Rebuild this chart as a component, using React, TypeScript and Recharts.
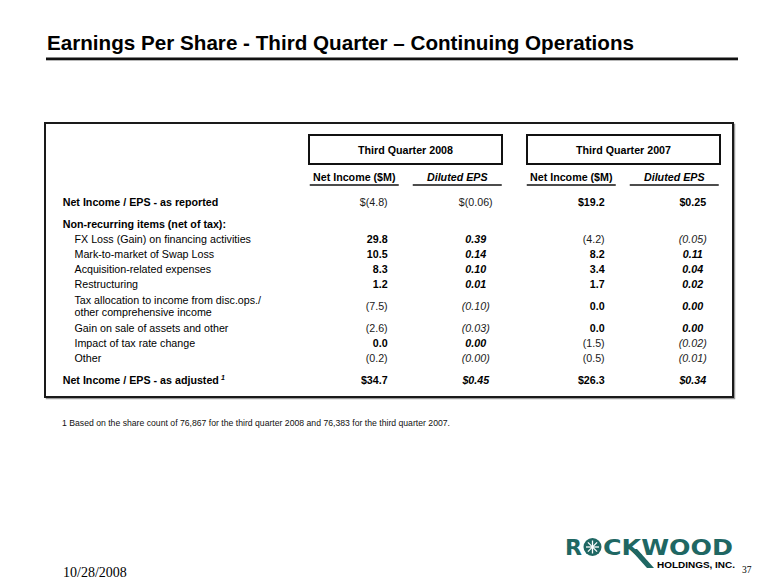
import React from 'react';
import { ScatterChart, Scatter, XAxis, YAxis } from 'recharts';

// table rows, top to bottom
const rowLabels = [
  'Net Income / EPS - as reported',
  'Non-recurring items (net of tax):',
  'FX Loss (Gain) on financing activities',
  'Mark-to-market of Swap Loss',
  'Acquisition-related expenses',
  'Restructuring',
  'Tax allocation to income from disc.ops./\nother comprehensive income',
  'Gain on sale of assets and other',
  'Impact of tax rate change',
  'Other',
  'Net Income / EPS - as adjusted',
];

const columnKeys = ['ni2008', 'eps2008', 'ni2007', 'eps2007'];
const columnHeaders = ['Net Income ($M)', 'Diluted EPS', 'Net Income ($M)', 'Diluted EPS'];
const periodHeaders = ['Third Quarter 2008', 'Third Quarter 2007'];

// null = heading row with no figures; -0 shows as (0.00)
const netIncome2008 = [-4.8, null, 29.8, 10.5, 8.3, 1.2, -7.5, -2.6, 0.0, -0.2, 34.7];
const eps2008 = [-0.06, null, 0.39, 0.14, 0.1, 0.01, -0.1, -0.03, 0.0, -0, 0.45];
const netIncome2007 = [19.2, null, -4.2, 8.2, 3.4, 1.7, 0.0, 0.0, -1.5, -0.5, 26.3];
const eps2007 = [0.25, null, -0.05, 0.11, 0.04, 0.02, 0.0, 0.0, -0.02, -0.01, 0.34];

const footnote =
  '1 Based on the share count of 76,867 for the third quarter 2008 and 76,383 for the third quarter 2007.';

const seriesValues = [netIncome2008, eps2008, netIncome2007, eps2007];

// vertical layout: line slot of each row (gaps and the two-line row get extra slots)
const rowSlots = [0, 3, 5, 7, 9, 11, 14, 17, 19, 21, 24];

const FONT = '"Liberation Sans", Arial, Helvetica, sans-serif';
const SERIF = '"Liberation Serif", "Times New Roman", serif';
const TEAL = '#1f6763';
const FS = 10.7;
const lastRow = rowLabels.length - 1;

const isNeg = (v: number) => v < 0 || Object.is(v, -0);

function fmt(v: number, col: number, row: number) {
  const body = Math.abs(v).toFixed(col % 2 === 0 ? 1 : 2);
  const s = isNeg(v) ? `(${body})` : body;
  return row === 0 || row === lastRow ? '$' + s : s;
}

const makeCell = (col: number) => (props: any) => {
  const { cx, cy, payload } = props;
  if (payload == null || payload.value == null || cx == null) return <g />;
  const isEps = col % 2 === 1;
  const row = payload.rowIndex;
  const bold = row === lastRow || !isNeg(payload.value);
  const italic = isEps && row !== 0;
  return (
    <text
      x={isEps ? cx - 3 : cx + 17.4}
      y={cy}
      dy="0.36em"
      textAnchor={isEps ? 'middle' : 'end'}
      fontFamily={FONT}
      fontSize={FS}
      fontWeight={bold ? 'bold' : 'normal'}
      fontStyle={italic ? 'italic' : 'normal'}
      fill={bold ? '#000' : '#1a1a1a'}
    >
      {fmt(payload.value, col, row)}
    </text>
  );
};

const HeaderTick = (props: any) => {
  const { x, y, payload } = props;
  const i = columnKeys.indexOf(payload.value);
  const isEps = i % 2 === 1;
  const hx = x + (isEps ? -21.5 : -16);
  return (
    <g>
      <text
        x={hx}
        y={y - 2}
        textAnchor="middle"
        fontFamily={FONT}
        fontSize={FS}
        fontWeight="bold"
        fontStyle={isEps ? 'italic' : 'normal'}
        fill="#000"
      >
        {columnHeaders[i]}
      </text>
      <line x1={hx - 44.5} x2={hx + 44.5} y1={y + 2} y2={y + 2} stroke="#111" strokeWidth={1.4} />
    </g>
  );
};

const RowTick = (props: any) => {
  const { y, payload } = props;
  const i = rowSlots.indexOf(payload.value);
  if (i < 0) return <g />;
  const indented = i > 1 && i < lastRow;
  const lines = rowLabels[i].split('\n');
  const x = indented ? 74.5 : 62.7;
  const top = y - ((lines.length - 1) * 12) / 2;
  return (
    <text
      x={x}
      y={top}
      textAnchor="start"
      fontFamily={FONT}
      fontSize={FS}
      fontWeight={indented ? 'normal' : 'bold'}
      fill="#000"
    >
      {lines.map((ln, k) => (
        <tspan key={k} x={x} dy={k === 0 ? '0.36em' : 12}>
          {ln}
        </tspan>
      ))}
      {i === lastRow && (
        <tspan dx={2} dy={-4} fontSize={7} fontStyle="italic">
          1
        </tspan>
      )}
    </text>
  );
};

function Decorations() {
  return (
    <svg width={780} height={585} style={{ position: 'absolute', left: 0, top: 0 }}>
      <text x={47} y={50} fontFamily={FONT} fontSize={20.6} fontWeight="bold" fill="#000"
        textLength={587} lengthAdjust="spacingAndGlyphs">
        Earnings Per Share - Third Quarter – Continuing Operations
      </text>
      <rect x={46} y={57.5} width={692} height={2.8} fill="#111" />

      {/* table frame */}
      <rect x={46.5} y={124.5} width={688} height={274} fill="none" stroke="#9a9a9a" strokeWidth={1.5} />
      <rect x={45} y={123} width={688} height={274} fill="#fff" stroke="#1a1a1a" strokeWidth={2} />

      {/* period boxes */}
      {periodHeaders.map((p, k) => {
        const bx = k === 0 ? 309 : 527;
        return (
          <g key={p}>
            <rect x={bx} y={135} width={193} height={29} fill="#fff" stroke="#111" strokeWidth={2} />
            <text x={bx + 96.5} y={153.5} textAnchor="middle" fontFamily={FONT} fontSize={FS}
              fontWeight="bold" fill="#000">
              {p}
            </text>
          </g>
        );
      })}

      <text x={62} y={426} fontFamily={FONT} fontSize={8.2} fill="#111" textLength={388}
        lengthAdjust="spacingAndGlyphs">
        {footnote}
      </text>

      <text x={63} y={577} fontFamily={SERIF} fontSize={14} fill="#000">10/28/2008</text>
      <text x={742} y={573} fontFamily={SERIF} fontSize={9.5} fill="#000">37</text>

      {/* logo */}
      <text x={565} y={555} fontFamily='"DejaVu Sans", sans-serif' fontSize={22} fontWeight="bold"
        fill={TEAL} textLength={17} lengthAdjust="spacingAndGlyphs">R</text>
      <circle cx={592.5} cy={547} r={9} fill={TEAL} />
      {[0, 45, 90, 135].map((a) => {
        const r = (a * Math.PI) / 180;
        return (
          <line key={a} x1={592.5 - 6.5 * Math.cos(r)} y1={547 - 6.5 * Math.sin(r)}
            x2={592.5 + 6.5 * Math.cos(r)} y2={547 + 6.5 * Math.sin(r)} stroke="#fff" strokeWidth={1.3} />
        );
      })}
      <text x={603} y={555} fontFamily='"DejaVu Sans", sans-serif' fontSize={22} fontWeight="bold"
        fill={TEAL} textLength={130} lengthAdjust="spacingAndGlyphs">CKWOOD</text>
      <polygon points="630,549 637,549 654,568 647,568" fill={TEAL} />
      <text x={657} y={568} fontFamily={FONT} fontSize={8.6} fontWeight="bold" fill="#000"
        textLength={78} lengthAdjust="spacingAndGlyphs">HOLDINGS, INC.</text>
    </svg>
  );
}

export default function App() {
  const series = columnKeys.map((key, col) =>
    rowLabels.map((row, rowIndex) => ({
      col: key,
      row,
      rowIndex,
      slot: rowSlots[rowIndex],
      value: seriesValues[col][rowIndex],
    }))
  );

  return (
    <div style={{ position: 'absolute', left: 0, top: 0, width: 780, height: 585, background: '#fff' }}>
      <Decorations />
      <div style={{ position: 'absolute', left: 0, top: 0 }}>
        <ScatterChart width={780} height={585} margin={{ top: 172.3, right: 30, bottom: 204.5, left: 16 }}>
          <XAxis
            xAxisId={0}
            dataKey="col"
            type="category"
            orientation="top"
            height={30}
            allowDuplicatedCategory={false}
            axisLine={false}
            tickLine={false}
            tickSize={0}
            tickMargin={19.3}
            interval={0}
            tick={<HeaderTick />}
          />
          <YAxis
            yAxisId={0}
            dataKey="slot"
            type="number"
            domain={[0, 24]}
            ticks={rowSlots}
            width={300}
            reversed
            axisLine={false}
            tickLine={false}
            interval={0}
            tick={<RowTick />}
          />
          {series.map((data, col) => (
            <Scatter
              key={columnKeys[col]}
              data={data}
              xAxisId={0}
              yAxisId={0}
              isAnimationActive={false}
              shape={makeCell(col)}
            />
          ))}
        </ScatterChart>
      </div>
    </div>
  );
}
